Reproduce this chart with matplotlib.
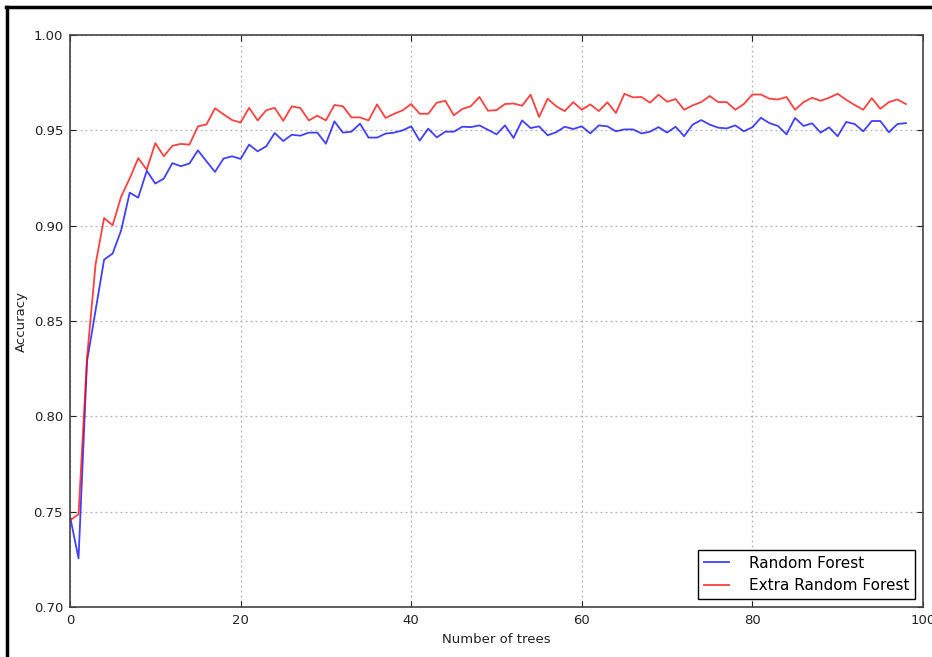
import matplotlib
matplotlib.use("Agg")
import matplotlib.pyplot as plt
from matplotlib.lines import Line2D

# accuracy vs number of trees
n_trees = list(range(99))
random_forest = [
    0.7476, 0.7255, 0.829, 0.8556, 0.8822, 0.8854, 0.8976, 0.9173, 0.9147, 0.9288,
    0.9221, 0.9247, 0.9328, 0.9312, 0.9326, 0.9395, 0.9338, 0.9282, 0.9352, 0.9364,
    0.9350, 0.9425, 0.9390, 0.9416, 0.9486, 0.9444, 0.9477, 0.9472, 0.9488, 0.9488,
    0.9430, 0.9547, 0.9488, 0.9493, 0.9535, 0.9462, 0.9462, 0.9483, 0.9488, 0.9500,
    0.9521, 0.9446, 0.9509, 0.9463, 0.9493, 0.9493, 0.9519, 0.9517, 0.9526, 0.9503,
    0.9479, 0.9526, 0.9460, 0.9552, 0.9512, 0.9521, 0.9474, 0.9490, 0.9519, 0.9507,
    0.9521, 0.9484, 0.9526, 0.9521, 0.9495, 0.9505, 0.9505, 0.9484, 0.9493, 0.9517,
    0.9488, 0.9519, 0.9469, 0.9530, 0.9554, 0.9530, 0.9514, 0.9510, 0.9526, 0.9495,
    0.9516, 0.9566, 0.9538, 0.9523, 0.9479, 0.9565, 0.9523, 0.9537, 0.9488, 0.9516,
    0.9469, 0.9544, 0.9533, 0.9495, 0.9549, 0.9549, 0.9490, 0.9533, 0.9538,
]
extra_random_forest = [
    0.7455, 0.7486, 0.831, 0.8798, 0.9040, 0.9002, 0.9153, 0.9248, 0.9354, 0.9294,
    0.9433, 0.9364, 0.9419, 0.9429, 0.9425, 0.9521, 0.9531, 0.9616, 0.9584, 0.9554,
    0.9541, 0.9618, 0.9552, 0.9605, 0.9618, 0.9550, 0.9626, 0.9617, 0.9552, 0.9577,
    0.9552, 0.9633, 0.9626, 0.9568, 0.9568, 0.9552, 0.9636, 0.9565, 0.9587, 0.9605,
    0.9638, 0.9587, 0.9587, 0.9645, 0.9655, 0.9579, 0.9612, 0.9627, 0.9675, 0.9603,
    0.9606, 0.9638, 0.9641, 0.9629, 0.9687, 0.9570, 0.9666, 0.9626, 0.9601, 0.9648,
    0.9608, 0.9636, 0.9601, 0.9647, 0.9591, 0.9692, 0.9673, 0.9675, 0.9645, 0.9687,
    0.9650, 0.9664, 0.9608, 0.9631, 0.9648, 0.9680, 0.9648, 0.9648, 0.9608, 0.9638,
    0.9688, 0.9688, 0.9666, 0.9662, 0.9675, 0.9608, 0.9648, 0.9671, 0.9655, 0.9671,
    0.9692, 0.9660, 0.9633, 0.9608, 0.9669, 0.9613, 0.9648, 0.9662, 0.9638,
]

fig = plt.figure(figsize=(9.32, 6.57), dpi=100)
ax = fig.add_axes([0.0751, 0.0761, 0.9152, 0.8706])

ax.plot(n_trees, random_forest, color="blue", alpha=0.75, lw=1.3, label="Random Forest")
ax.plot(n_trees, extra_random_forest, color="red", alpha=0.75, lw=1.3, label="Extra Random Forest")

ax.set_xlim(0, 100)
ax.set_ylim(0.70, 1.00)
ax.set_xticks([0, 20, 40, 60, 80, 100])
ax.set_yticks([0.70, 0.75, 0.80, 0.85, 0.90, 0.95, 1.00])
ax.set_yticklabels(["%.2f" % v for v in ax.get_yticks()])
ax.tick_params(direction="in", top=True, right=True, labelsize=9.5, length=4,
               colors="#222222", pad=5)
ax.grid(True, color="#b0b0b0", linestyle=(0, (1.5, 2.5)), lw=0.9)
for s in ax.spines.values():
    s.set_color("#444444")
    s.set_linewidth(1.2)

ax.set_xlabel("Number of trees", fontsize=9.5, color="#222222")
ax.set_ylabel("Accuracy", fontsize=9.5, color="#222222")

leg = ax.legend(loc="lower right", fontsize=11, fancybox=False, framealpha=1,
                edgecolor="black", handlelength=1.6, handletextpad=1.3,
                borderaxespad=0.5)
leg.get_frame().set_linewidth(1.0)

# black frame from the screenshot crop (top and left edges)
fig.add_artist(Line2D([0.0065, 1.0], [0.9886, 0.9886], transform=fig.transFigure, color="black", lw=2.5))
fig.add_artist(Line2D([0.0075, 0.0075], [0.0, 0.9886], transform=fig.transFigure, color="black", lw=2.5))

fig.savefig("out.png", dpi=100)
